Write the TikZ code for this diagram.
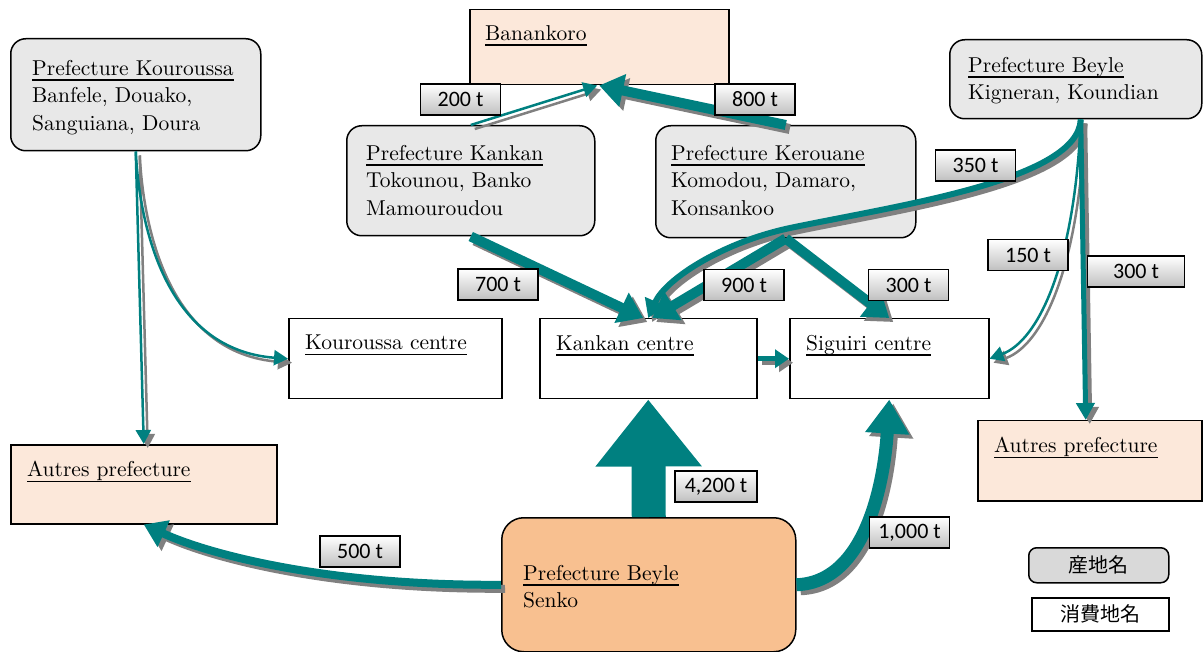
\documentclass[tikz,border=0pt]{standalone}
\usepackage{fontspec}
\setmainfont{lmroman10-regular.otf}[BoldFont=lmroman10-bold.otf, ItalicFont=lmroman10-italic.otf]
\newfontfamily\lblfont{Carlito}
\newfontfamily\cjkfont{Noto Sans CJK JP}
\usetikzlibrary{arrows.meta}

\definecolor{flowcol}{RGB}{0,128,128}
\definecolor{flowshadow}{RGB}{128,128,128}
\definecolor{srcfill}{RGB}{232,232,232}
\definecolor{dstfill}{RGB}{252,232,218}
\definecolor{senkofill}{RGB}{248,192,144}
\definecolor{legendfill}{RGB}{217,217,217}

% underlined heading with a fixed rule depth
\newcommand\ul[1]{\setbox0\hbox{#1}\rlap{\rule[-5.5pt]{\wd0}{1.5pt}}\box0}

% a flow arrow: grey drop copy first, teal arrow on top
\newcommand\flowarrow[2]{%
  \draw[#1, draw=flowshadow, transform canvas={shift={(4,4)}}] #2;
  \draw[#1, draw=flowcol] #2;}

\tikzset{
  src/.style={draw, line width=1.5pt, fill=srcfill, rounded corners=15pt,
    anchor=north west, inner sep=0pt},
  dst/.style={draw, line width=1.5pt, fill=dstfill, anchor=north west, inner sep=0pt},
  ctr/.style={draw, line width=1.5pt, fill=white, anchor=north west, inner sep=0pt},
  txt/.style={anchor=north west, inner sep=0pt, align=left,
    font=\fontsize{21.5}{27.5}\selectfont},
  qty/.style={draw, line width=1.3pt, top color=white, bottom color=black!25,
    minimum height=31pt, minimum width=80pt, inner sep=0pt,
    font=\lblfont\fontsize{22}{24}\selectfont},
  thinflow/.style={line width=2.5pt, -{Triangle[width=15pt,length=14pt]}},
  midflow/.style={line width=6pt, -{Triangle[width=22pt,length=18pt]}},
  slimflow/.style={line width=5pt, -{Triangle[width=18pt,length=17pt]}},
  shortflow/.style={line width=5pt, -{Triangle[width=18pt,length=14pt]}},
  thickflow/.style={line width=10pt, -{Triangle[width=32pt,length=24pt]}},
  wideflow/.style={line width=8pt, -{Triangle[width=28pt,length=22pt]}},
  heavyflow/.style={line width=13pt, -{Triangle[width=42pt,length=34pt]}},
}

\begin{document}
\begin{tikzpicture}[x=1pt,y=-1pt]
\useasboundingbox (0,0) rectangle (1203,652);

% producing areas
\node[src, minimum width=250pt, minimum height=112pt] (kouP) at (10,38) {};
\node[src, minimum width=248pt, minimum height=110pt] (kanP) at (346,125) {};
\node[src, minimum width=260pt, minimum height=112pt] (kerP) at (655,125) {};
\node[src, minimum width=252pt, minimum height=79pt] (beyT) at (949,39) {};
\node[src, fill=senkofill, rounded corners=22pt, minimum width=294pt, minimum height=134pt] (senko) at (501,517) {};

% consuming areas
\node[dst, minimum width=259pt, minimum height=75pt] (ban) at (469,9) {};
\node[dst, minimum width=266pt, minimum height=79pt] (autL) at (10,444) {};
\node[dst, minimum width=224pt, minimum height=80pt] (autR) at (977,420) {};
\node[ctr, minimum width=213pt, minimum height=80pt] (kouC) at (288,318) {};
\node[ctr, minimum width=217pt, minimum height=80pt] (kanC) at (539,318) {};
\node[ctr, minimum width=199pt, minimum height=80pt] (sigC) at (789,318) {};

% box texts
\node[txt] (kouPt) at (32,60) {\ul{Prefecture Kouroussa}\\Banfele, Douako,\\Sanguiana, Doura};
\node[txt] (kanPt) at (366,145) {\ul{Prefecture Kankan}\\Tokounou, Banko\\Mamouroudou};
\node[txt] (kerPt) at (671,145) {\ul{Prefecture Kerouane}\\Komodou, Damaro,\\Konsankoo};
\node[txt] (beyTt) at (968,57) {\ul{Prefecture Beyle}\\Kigneran, Koundian};
\node[txt] (senkot) at (523,565) {\ul{Prefecture Beyle}\\Senko};
\node[txt] (bant) at (485,25) {\ul{Banankoro}};
\node[txt] (autLt) at (27,461) {\ul{Autres prefecture}};
\node[txt] (autRt) at (994,437) {\ul{Autres prefecture}};
\node[txt] (kouCt) at (305,335) {\ul{Kouroussa centre}};
\node[txt] (kanCt) at (556,335) {\ul{Kankan centre}};
\node[txt] (sigCt) at (806,335) {\ul{Siguiri centre}};

% flows
\flowarrow{thinflow}{(kouP.south) -- (autL.north)}
\flowarrow{thinflow}{(kouP.south) .. controls (140,235) and (170,350) .. (kouC.west)}
\flowarrow{thinflow}{(kanP.north) -- ([xshift=-2pt]ban.south)}
\flowarrow{thickflow}{(kerP.north) -- (ban.south)}
\flowarrow{thickflow}{(kanP.south) -- ([xshift=-5pt]kanC.north)}
\flowarrow{midflow}{([xshift=5pt]beyT.south) .. controls (1078,180) and (900,205) .. (790,228) .. controls (720,243) and (665,280) .. (kanC.north)}
\flowarrow{thickflow}{(kerP.south) -- ([xshift=4pt]kanC.north)}
\flowarrow{thickflow}{(kerP.south) -- (sigC.north)}
\flowarrow{thinflow}{([xshift=5pt]beyT.south) .. controls (1075,260) and (1040,340) .. (sigC.east)}
\flowarrow{slimflow}{([xshift=5pt]beyT.south) -- ([xshift=-4pt]autR.north)}
\flowarrow{shortflow}{(kanC.east) -- (sigC.west)}
\flowarrow{heavyflow}{(senko.east) .. controls (870,582) and (885,470) .. (sigC.south)}
\flowarrow{wideflow}{(senko.west) .. controls (330,586) and (210,555) .. (autL.south)}
\draw[draw=flowcol, line width=34pt, -{Triangle[width=102pt,length=67pt]}] (senko.north) -- (kanC.south);

% quantities
\node[qty] (q200) at (460.5,99.5) {200 t};
\node[qty] (q800) at (755,99.5) {800 t};
\node[qty] (q350) at (975.5,165.5) {350 t};
\node[qty] (q700) at (498,284.5) {700 t};
\node[qty] (q900) at (744,285) {900 t};
\node[qty] (q300a) at (908.5,285) {300 t};
\node[qty] (q150) at (1028,255) {150 t};
\node[qty, minimum width=97pt] (q300b) at (1136,271.5) {300 t};
\node[qty, minimum width=82pt] (q4200) at (716,486.5) {4,200 t};
\node[qty] (q1000) at (909.5,532.5) {1,000 t};
\node[qty] (q500) at (360,551.5) {500 t};

% legend
\node[draw, line width=1.5pt, fill=legendfill, rounded corners=8pt, minimum width=140pt,
  minimum height=35pt, anchor=north west, inner sep=0pt,
  font=\cjkfont\fontsize{20}{24}\selectfont] (legSrc) at (1028,547) {産地名};
\node[draw, line width=1.5pt, fill=white, minimum width=137pt, minimum height=33pt,
  anchor=north west, inner sep=0pt,
  font=\cjkfont\fontsize{20}{24}\selectfont] (legDst) at (1031,597) {消費地名};
\end{tikzpicture}
\end{document}
